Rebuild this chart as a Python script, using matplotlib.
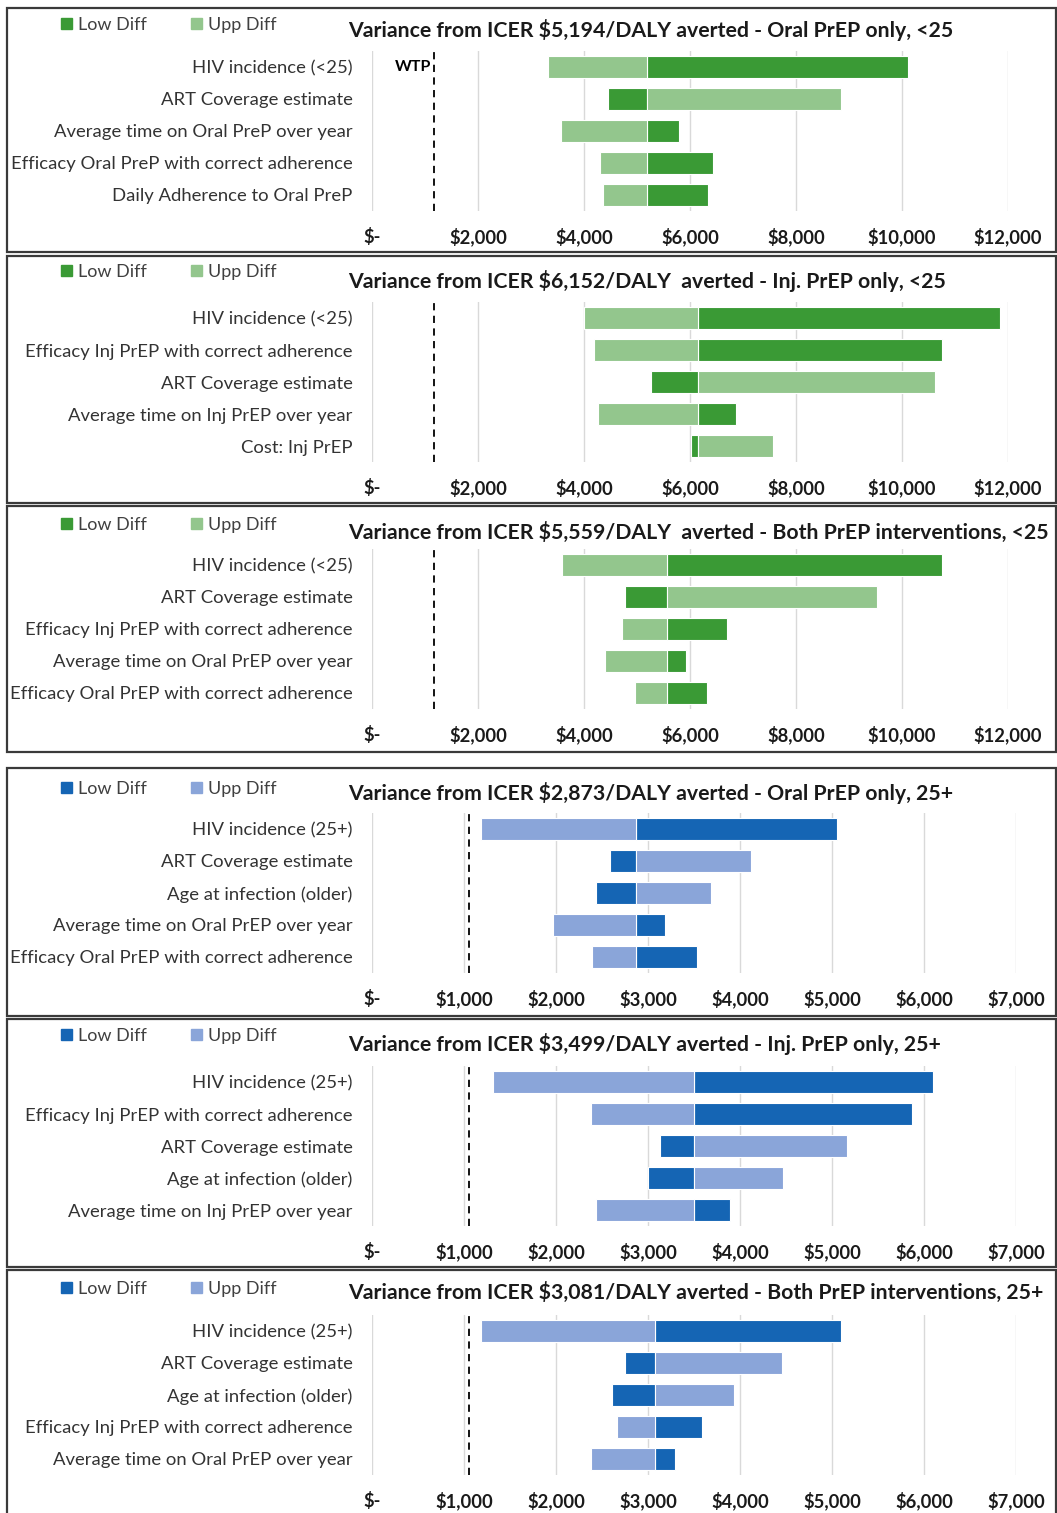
import matplotlib
matplotlib.use("Agg")
import matplotlib.pyplot as plt
from matplotlib.patches import Rectangle, Patch
from matplotlib.ticker import FuncFormatter

plt.rcParams['font.family'] = ['Lato', 'DejaVu Sans']
plt.rcParams['text.parse_math'] = False

W, H = 1057, 1513

# --- data: ICER (USD/DALY averted) at low / upper parameter values ---
oral_u25_title = "Variance from ICER $5,194/DALY averted - Oral PrEP only, <25"
oral_u25_base = 5194
oral_u25_labels = ["HIV incidence (<25)", "ART Coverage estimate",
                   "Average time on Oral PreP over year",
                   "Efficacy Oral PreP with correct adherence",
                   "Daily Adherence to Oral PreP"]
oral_u25_low = [10110, 4450, 5790, 6430, 6340]
oral_u25_upp = [3320, 8850, 3570, 4310, 4350]

inj_u25_title = "Variance from ICER $6,152/DALY  averted - Inj. PrEP only, <25"
inj_u25_base = 6152
inj_u25_labels = ["HIV incidence (<25)", "Efficacy Inj PrEP with correct adherence",
                  "ART Coverage estimate", "Average time on Inj PrEP over year",
                  "Cost: Inj PrEP"]
inj_u25_low = [11840, 10750, 5260, 6860, 6015]
inj_u25_upp = [4000, 4180, 10620, 4270, 7560]

both_u25_title = "Variance from ICER $5,559/DALY  averted - Both PrEP interventions, <25"
both_u25_base = 5559
both_u25_labels = ["HIV incidence (<25)", "ART Coverage estimate",
                   "Efficacy Inj PrEP with correct adherence",
                   "Average time on Oral PrEP over year",
                   "Efficacy Oral PrEP with correct adherence"]
both_u25_low = [10760, 4770, 6700, 5930, 6320]
both_u25_upp = [3590, 9530, 4720, 4400, 4960]

oral_25p_title = "Variance from ICER $2,873/DALY averted - Oral PrEP only, 25+"
oral_25p_base = 2873
oral_25p_labels = ["HIV incidence (25+)", "ART Coverage estimate",
                   "Age at infection (older)", "Average time on Oral PrEP over year",
                   "Efficacy Oral PrEP with correct adherence"]
oral_25p_low = [5050, 2590, 2440, 3190, 3530]
oral_25p_upp = [1190, 4120, 3690, 1970, 2390]

inj_25p_title = "Variance from ICER $3,499/DALY averted - Inj. PrEP only, 25+"
inj_25p_base = 3499
inj_25p_labels = ["HIV incidence (25+)", "Efficacy Inj PrEP with correct adherence",
                  "ART Coverage estimate", "Age at infection (older)",
                  "Average time on Inj PrEP over year"]
inj_25p_low = [6100, 5870, 3130, 3000, 3890]
inj_25p_upp = [1310, 2380, 5160, 4470, 2440]

both_25p_title = "Variance from ICER $3,081/DALY averted - Both PrEP interventions, 25+"
both_25p_base = 3081
both_25p_labels = ["HIV incidence (25+)", "ART Coverage estimate",
                   "Age at infection (older)",
                   "Efficacy Inj PrEP with correct adherence",
                   "Average time on Oral PrEP over year"]
both_25p_low = [5100, 2750, 2610, 3590, 3290]
both_25p_upp = [1180, 4460, 3940, 2660, 2380]

wtp_u25 = 1175
wtp_25p = 1050

green = ("#3a9a35", "#93c68d")
blue = ("#1565b4", "#8aa5d9")

panels = [
    (oral_u25_title, oral_u25_base, oral_u25_labels, oral_u25_low, oral_u25_upp, wtp_u25, green, 12000, 2000),
    (inj_u25_title, inj_u25_base, inj_u25_labels, inj_u25_low, inj_u25_upp, wtp_u25, green, 12000, 2000),
    (both_u25_title, both_u25_base, both_u25_labels, both_u25_low, both_u25_upp, wtp_u25, green, 12000, 2000),
    (oral_25p_title, oral_25p_base, oral_25p_labels, oral_25p_low, oral_25p_upp, wtp_25p, blue, 7000, 1000),
    (inj_25p_title, inj_25p_base, inj_25p_labels, inj_25p_low, inj_25p_upp, wtp_25p, blue, 7000, 1000),
    (both_25p_title, both_25p_base, both_25p_labels, both_25p_low, both_25p_upp, wtp_25p, blue, 7000, 1000),
]

# pixel layout of each framed panel
box_top = [8, 256, 506, 768, 1019, 1270]
box_bot = [252, 503, 752, 1016, 1267, 1516]
row1_y = [67, 318, 565, 829, 1082, 1331]
legend_y = [25, 272, 525, 789, 1036, 1289]
title_y = [30, 281, 532, 793, 1044, 1292]
ax_left = 372
ax_right = [1008, 1008, 1008, 1016, 1016, 1016]
row_h = 32


def fx(x):
    return x / W


def fy(y):
    return 1 - y / H


def money(v, pos):
    return "$-" if v == 0 else "${:,.0f}".format(v)


fig = plt.figure(figsize=(W / 100, H / 100), dpi=100)

for i, (title, base, labels, low, upp, wtp, cols, xmax, step) in enumerate(panels):
    # frame around the panel
    fig.patches.append(Rectangle((fx(7), fy(box_bot[i])), fx(1049), (box_bot[i] - box_top[i]) / H,
                                 transform=fig.transFigure, fill=False,
                                 edgecolor="#3a3a3a", linewidth=1.6, zorder=0))

    top = row1_y[i] - row_h / 2
    ax = fig.add_axes([fx(ax_left), fy(top + 5 * row_h), fx(ax_right[i] - ax_left), 5 * row_h / H])
    n = len(labels)
    ypos = list(range(n))
    low_w = [v - base for v in low]
    upp_w = [v - base for v in upp]
    ax.barh(ypos, low_w, left=base, height=0.66, color=cols[0],
            edgecolor="white", linewidth=0.8, zorder=3)
    ax.barh(ypos, upp_w, left=base, height=0.66, color=cols[1],
            edgecolor="white", linewidth=0.8, zorder=3)
    ax.axvline(wtp, color="black", linestyle=(0, (4, 3)), linewidth=1.3, zorder=4)
    if i == 0:
        ax.text(wtp - 60, 0, "WTP", ha="right", va="center", fontsize=11.5,
                fontweight="bold", zorder=5)

    ax.set_xlim(0, xmax)
    ax.set_ylim(n - 0.5, -0.5)
    ax.set_xticks(range(0, xmax + 1, step))
    ax.xaxis.set_major_formatter(FuncFormatter(money))
    ax.set_yticks(ypos)
    ax.set_yticklabels(labels, fontsize=13.3, color="#333333")
    ax.grid(axis="x", color="#d9d9d9", linewidth=1.0, zorder=0)
    ax.tick_params(axis="x", length=0, pad=12, labelsize=13.2, labelcolor="#1a1a1a")
    ax.tick_params(axis="y", length=0, pad=14)
    for lab in ax.get_xticklabels():
        lab.set_fontweight("bold")
    for s in ax.spines.values():
        s.set_visible(False)

    fig.text(fx(348), fy(title_y[i]), title, ha="left", va="center",
             fontsize=15.3, fontweight="bold", color="#1a1a1a")
    fig.legend(handles=[Patch(color=cols[0], label="Low Diff"),
                        Patch(color=cols[1], label="Upp Diff")],
               loc="center left", bbox_to_anchor=(fx(61), fy(legend_y[i])),
               ncol=2, frameon=False, fontsize=13, handlelength=0.6,
               handleheight=0.6, handletextpad=0.35, columnspacing=2.45,
               borderpad=0, borderaxespad=0, labelcolor="#404040")

fig.savefig("out.png", dpi=100)
